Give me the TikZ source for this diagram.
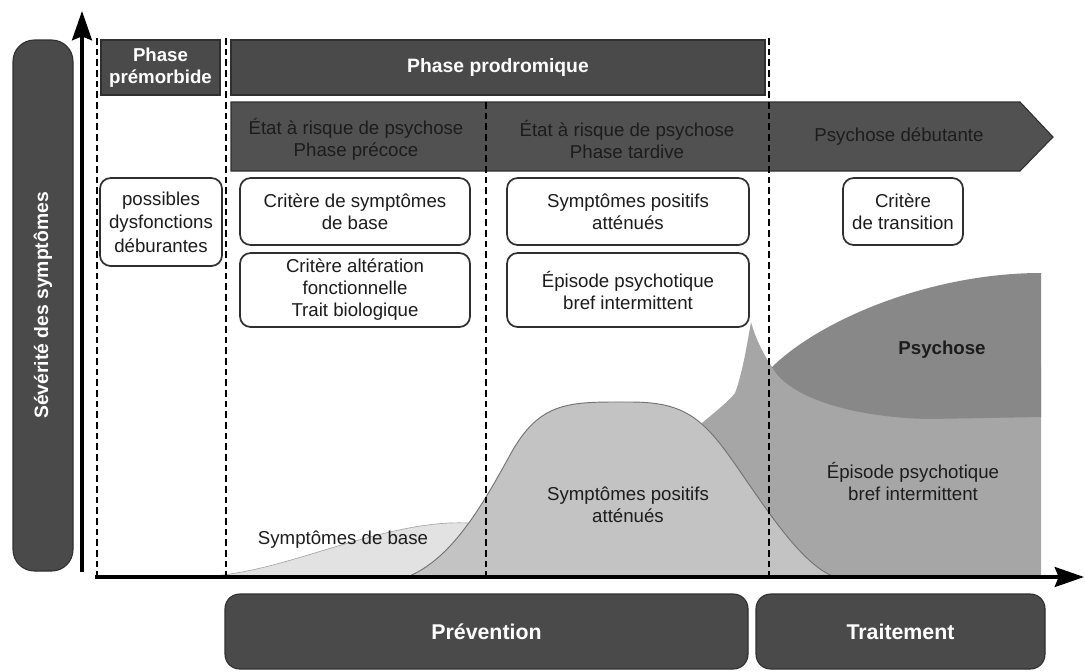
\documentclass[tikz,border=0pt]{standalone}
\usepackage{fontspec}
\setmainfont{Liberation Sans}
\usetikzlibrary{arrows.meta}
\definecolor{dk}{HTML}{4A4A4A}
\definecolor{bandc}{HTML}{515151}
\definecolor{edge}{HTML}{2F2F2F}
\definecolor{basec}{HTML}{E2E2E2}
\definecolor{spac}{HTML}{C3C3C3}
\definecolor{epic}{HTML}{A6A6A6}
\definecolor{psyc}{HTML}{888888}
\definecolor{txt}{HTML}{1C1C1C}
\begin{document}
\begin{tikzpicture}[x=0.75pt,y=-0.75pt,
  darkbox/.style={fill=dk,draw=edge,line width=0.8pt,text=white,align=center,inner sep=0pt,
    font=\bfseries\fontsize{14}{16.5}\selectfont},
  wbox/.style={fill=white,draw=edge,line width=1.3pt,rounded corners=8pt,align=center,inner sep=0pt,
    text=txt,font=\fontsize{14}{16.5}\selectfont},
  bandtxt/.style={text=txt,align=center,inner sep=0pt,font=\fontsize{14}{16.5}\selectfont},
  regtxt/.style={text=txt,align=center,inner sep=0pt,font=\fontsize{14}{16.5}\selectfont},
  dashline/.style={line width=1.5pt,dash pattern=on 5pt off 3pt},
  axis/.style={line width=2.3pt,-{Stealth[length=22pt,width=15pt,inset=3pt]}}
]
\useasboundingbox (0,0) rectangle (1085,671);

% left bar
\node[darkbox,rounded corners=16pt,minimum width=45pt,minimum height=398.25pt] (bar) at (43,305.5) {};
\node[rotate=90,text=white,inner sep=0pt,font=\bfseries\fontsize{14.5}{17}\selectfont] (sev) at (bar.center) {Sévérité des symptômes};

% headers
\node[darkbox,minimum width=89.25pt,minimum height=41.25pt] (prem) at (160.5,67.5) {Phase\\prémorbide};
\node[darkbox,minimum width=400.5pt,minimum height=41.25pt,font=\bfseries\fontsize{14.5}{17}\selectfont] (prod) at (498,67.5) {Phase prodromique};

% band arrow
\draw[fill=bandc,draw=edge,line width=0.8pt] (231,102) -- (1020,102) -- (1053,137) -- (1020,171) -- (231,171) -- cycle;
\node[bandtxt] (b1) at (356,139) {État à risque de psychose\\Phase précoce};
\node[bandtxt] (b2) at (627,139) {État à risque de psychose\\Phase tardive};
\node[bandtxt] (b3) at (899,137) {Psychose débutante};

% white boxes
\node[wbox,minimum width=91.5pt,minimum height=66pt,font=\fontsize{14}{17.5}\selectfont] (poss) at (161,222) {possibles\\dysfonctions\\déburantes};
\node[wbox,minimum width=172.5pt,minimum height=50.25pt] (c1) at (355,211.5) {Critère de symptômes\\de base};
\node[wbox,minimum width=172.5pt,minimum height=55.5pt] (c2) at (355,290) {Critère altération\\fonctionnelle\\Trait biologique};
\node[wbox,minimum width=181.5pt,minimum height=50.25pt] (s1) at (628,211.5) {Symptômes positifs\\atténués};
\node[wbox,minimum width=181.5pt,minimum height=55.5pt] (s2) at (628,290) {Épisode psychotique\\bref intermittent};
\node[wbox,minimum width=90pt,minimum height=50.25pt] (ct) at (903,211.5) {Critère\\de transition};

% regions
\fill[epic] (702,423) .. controls (715,412) and (728,402) .. (735,393)
  .. controls (742,375) and (747,345) .. (751,322)
  .. controls (756,340) and (764,355) .. (772,367)
  -- (1041,367) -- (1041,577) -- (830,577) -- (700,500) -- cycle;
\draw[fill=basec,draw=gray!70,line width=0.5pt] (195,577) .. controls (260,576) and (320,548) .. (390,532)
  .. controls (420,525) and (445,522) .. (468,523) -- (485,577) -- cycle;
\draw[fill=spac,draw=gray!110,line width=0.7pt] (407,577) .. controls (450,560) and (480,510) .. (510,455)
  .. controls (540,400) and (570,402) .. (630,402)
  .. controls (680,402) and (700,415) .. (730,457)
  .. controls (760,499) and (800,565) .. (835,577) -- cycle;
\fill[psyc] (772,367) .. controls (820,320) and (930,273) .. (1041,273) -- (1041,417) -- (930,419)
  .. controls (860,418) and (790,400) .. (772,367) -- cycle;

% region labels
\node[regtxt] (lbase) at (343,540) {Symptômes de base};
\node[regtxt] (lspa) at (628,505) {Symptômes positifs\\atténués};
\node[regtxt,font=\bfseries\fontsize{14}{16.5}\selectfont] (lpsy) at (942,350) {Psychose};
\node[regtxt] (lepi) at (913,481) {Épisode psychotique\\bref intermittent};

% dashed separators
\coordinate (d1t) at (97,38);   \coordinate (d1b) at (97,577);
\coordinate (d2t) at (226,38);  \coordinate (d2b) at (226,577);
\coordinate (d3t) at (486,102); \coordinate (d3b) at (486,577);
\coordinate (d4t) at (769,38);  \coordinate (d4b) at (769,577);
\draw[dashline] (d1t) -- (d1b);
\draw[dashline] (d2t) -- (d2b);
\draw[dashline] (d3t) -- (d3b);
\draw[dashline] (d4t) -- (d4b);

% axes
\coordinate (yo) at (82,572); \coordinate (yt) at (82,11);
\coordinate (xo) at (95,577); \coordinate (xt) at (1084,577);
\draw[axis] (yo) -- (yt);
\draw[axis] (xo) -- (xt);

% bottom boxes
\node[darkbox,rounded corners=11pt,minimum width=392.25pt,minimum height=56.25pt,font=\bfseries\fontsize{16}{19}\selectfont] (prev) at (486.5,631.5) {Prévention};
\node[darkbox,rounded corners=11pt,minimum width=216.75pt,minimum height=56.25pt,font=\bfseries\fontsize{16}{19}\selectfont] (trait) at (900.5,631.5) {Traitement};
\end{tikzpicture}
\end{document}
